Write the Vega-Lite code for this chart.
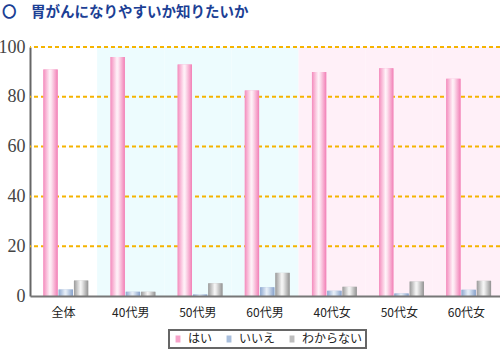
{
  "$schema": "https://vega.github.io/schema/vega-lite/v6.json",
  "width": 470,
  "height": 249,
  "autosize": {"type": "none"},
  "padding": {"left": 30, "top": 47, "right": 0, "bottom": 55},
  "background": "white",
  "title": {
    "text": "〇　胃がんになりやすいか知りたいか",
    "anchor": "start",
    "frame": "group",
    "dx": -28,
    "offset": 18,
    "fontSize": 14.5,
    "fontWeight": "bold",
    "color": "#1c3f95",
    "font": "Noto Sans CJK JP"
  },
  "datasets": {
    "survey": [
      {"区分": "全体", "回答": "はい", "割合": 91},
      {"区分": "全体", "回答": "いいえ", "割合": 2.6},
      {"区分": "全体", "回答": "わからない", "割合": 6.2},
      {"区分": "40代男", "回答": "はい", "割合": 96},
      {"区分": "40代男", "回答": "いいえ", "割合": 1.7},
      {"区分": "40代男", "回答": "わからない", "割合": 1.7},
      {"区分": "50代男", "回答": "はい", "割合": 93},
      {"区分": "50代男", "回答": "いいえ", "割合": 0.6},
      {"区分": "50代男", "回答": "わからない", "割合": 5.1},
      {"区分": "60代男", "回答": "はい", "割合": 82.5},
      {"区分": "60代男", "回答": "いいえ", "割合": 3.5},
      {"区分": "60代男", "回答": "わからない", "割合": 9.3},
      {"区分": "40代女", "回答": "はい", "割合": 90},
      {"区分": "40代女", "回答": "いいえ", "割合": 2.1},
      {"区分": "40代女", "回答": "わからない", "割合": 3.7},
      {"区分": "50代女", "回答": "はい", "割合": 91.5},
      {"区分": "50代女", "回答": "いいえ", "割合": 1.0},
      {"区分": "50代女", "回答": "わからない", "割合": 5.8},
      {"区分": "60代女", "回答": "はい", "割合": 87.2},
      {"区分": "60代女", "回答": "いいえ", "割合": 2.5},
      {"区分": "60代女", "回答": "わからない", "割合": 6.1}
    ],
    "bands": [
      {"区分": "40代男", "層": "男性"},
      {"区分": "50代男", "層": "男性"},
      {"区分": "60代男", "層": "男性"},
      {"区分": "40代女", "層": "女性"},
      {"区分": "50代女", "層": "女性"},
      {"区分": "60代女", "層": "女性"}
    ],
    "grid": [
      {"目盛": 20}, {"目盛": 40}, {"目盛": 60}, {"目盛": 80}, {"目盛": 100}
    ]
  },
  "layer": [
    {
      "data": {"name": "bands"},
      "transform": [{"filter": "datum['層'] === '男性'"}],
      "mark": {"type": "rect", "color": "#edfcfe"},
      "encoding": {
        "x": {"field": "区分", "type": "nominal", "title": null,
              "sort": ["全体", "40代男", "50代男", "60代男", "40代女", "50代女", "60代女"],
              "scale": {"domain": ["全体", "40代男", "50代男", "60代男", "40代女", "50代女", "60代女"], "paddingInner": 0, "paddingOuter": 0}}
      }
    },
    {
      "data": {"name": "bands"},
      "transform": [{"filter": "datum['層'] === '女性'"}],
      "mark": {"type": "rect", "color": "#fff0f8"},
      "encoding": {
        "x": {"field": "区分", "type": "nominal", "title": null,
              "sort": ["全体", "40代男", "50代男", "60代男", "40代女", "50代女", "60代女"]}
      }
    },
    {
      "data": {"name": "grid"},
      "mark": {"type": "rule", "color": "#f5b400", "strokeWidth": 2, "strokeDash": [4, 3]},
      "encoding": {
        "y": {"field": "目盛", "type": "quantitative", "title": null, "scale": {"domain": [0, 100]}}
      }
    },
    {
      "data": {"name": "survey"},
      "mark": {"type": "bar"},
      "encoding": {
        "x": {"field": "区分", "type": "nominal", "title": null,
              "sort": ["全体", "40代男", "50代男", "60代男", "40代女", "50代女", "60代女"]},
        "xOffset": {"field": "回答", "type": "nominal",
                    "sort": ["はい", "いいえ", "わからない"],
                    "scale": {"domain": ["はい", "いいえ", "わからない"], "paddingInner": 0.065, "paddingOuter": 0.73, "align": 0.6}},
        "y": {"field": "割合", "type": "quantitative", "title": null,
              "scale": {"domain": [0, 100]},
              "axis": {"values": [0, 20, 40, 60, 80, 100]}},
        "color": {
          "field": "回答", "type": "nominal", "title": null,
          "sort": ["はい", "いいえ", "わからない"],
          "scale": {
            "domain": ["はい", "いいえ", "わからない"],
            "range": ["#f7a3ca", "#a9bfdd", "#bdbdbd"]
          },
          "legend": {
            "orient": "none",
            "legendX": 139,
            "legendY": 283,
            "direction": "horizontal",
            "title": null
          }
        }
      }
    },
    {
      "data": {"name": "survey"},
      "transform": [{"filter": "datum['回答'] === 'はい'"}],
      "mark": {"type": "bar", "color": {"gradient": "linear", "x1": 0, "y1": 0, "x2": 1, "y2": 0,
               "stops": [{"offset": 0, "color": "#f48cbd"}, {"offset": 0.45, "color": "#fff2f8"}, {"offset": 0.55, "color": "#fde6f1"}, {"offset": 1, "color": "#f27fb6"}]}},
      "encoding": {
        "x": {"field": "区分", "type": "nominal", "title": null,
              "sort": ["全体", "40代男", "50代男", "60代男", "40代女", "50代女", "60代女"]},
        "xOffset": {"field": "回答", "type": "nominal", "sort": ["はい", "いいえ", "わからない"]},
        "y": {"field": "割合", "type": "quantitative", "title": null}
      }
    },
    {
      "data": {"name": "survey"},
      "transform": [{"filter": "datum['回答'] === 'いいえ'"}],
      "mark": {"type": "bar", "color": {"gradient": "linear", "x1": 0, "y1": 0, "x2": 1, "y2": 0,
               "stops": [{"offset": 0, "color": "#8ea8d0"}, {"offset": 0.45, "color": "#e8eff8"}, {"offset": 0.55, "color": "#dde7f3"}, {"offset": 1, "color": "#86a0ca"}]}},
      "encoding": {
        "x": {"field": "区分", "type": "nominal", "title": null,
              "sort": ["全体", "40代男", "50代男", "60代男", "40代女", "50代女", "60代女"]},
        "xOffset": {"field": "回答", "type": "nominal", "sort": ["はい", "いいえ", "わからない"]},
        "y": {"field": "割合", "type": "quantitative", "title": null}
      }
    },
    {
      "data": {"name": "survey"},
      "transform": [{"filter": "datum['回答'] === 'わからない'"}],
      "mark": {"type": "bar", "color": {"gradient": "linear", "x1": 0, "y1": 0, "x2": 1, "y2": 0,
               "stops": [{"offset": 0, "color": "#9a9a9a"}, {"offset": 0.45, "color": "#f6f6f6"}, {"offset": 0.55, "color": "#ececec"}, {"offset": 1, "color": "#929292"}]}},
      "encoding": {
        "x": {"field": "区分", "type": "nominal", "title": null,
              "sort": ["全体", "40代男", "50代男", "60代男", "40代女", "50代女", "60代女"]},
        "xOffset": {"field": "回答", "type": "nominal", "sort": ["はい", "いいえ", "わからない"]},
        "y": {"field": "割合", "type": "quantitative", "title": null}
      }
    }
  ],
  "config": {
    "view": {"stroke": null},
    "axisY": {
      "domainColor": "#666666", "domainWidth": 2, "ticks": false, "grid": false,
      "labelFont": "Liberation Sans Narrow", "labelFontSize": 18, "labelColor": "#444444",
      "labelPadding": 5
    },
    "axisX": {
      "domainColor": "#777777", "domainWidth": 2, "ticks": false, "grid": false,
      "labelFont": "Noto Sans CJK JP", "labelFontSize": 12, "labelColor": "#222222",
      "labelPadding": 11, "labelAngle": 0
    },
    "legend": {
      "strokeColor": "#666666", "strokeWidth": 2, "padding": 3, "cornerRadius": 0,
      "labelFont": "Noto Sans CJK JP", "labelFontSize": 12, "labelColor": "#222222",
      "symbolType": "M-0.7,-1H0.7V1H-0.7Z", "symbolSize": 49, "symbolStrokeWidth": 0,
      "columnPadding": 10, "labelOffset": 4
    }
  }
}
